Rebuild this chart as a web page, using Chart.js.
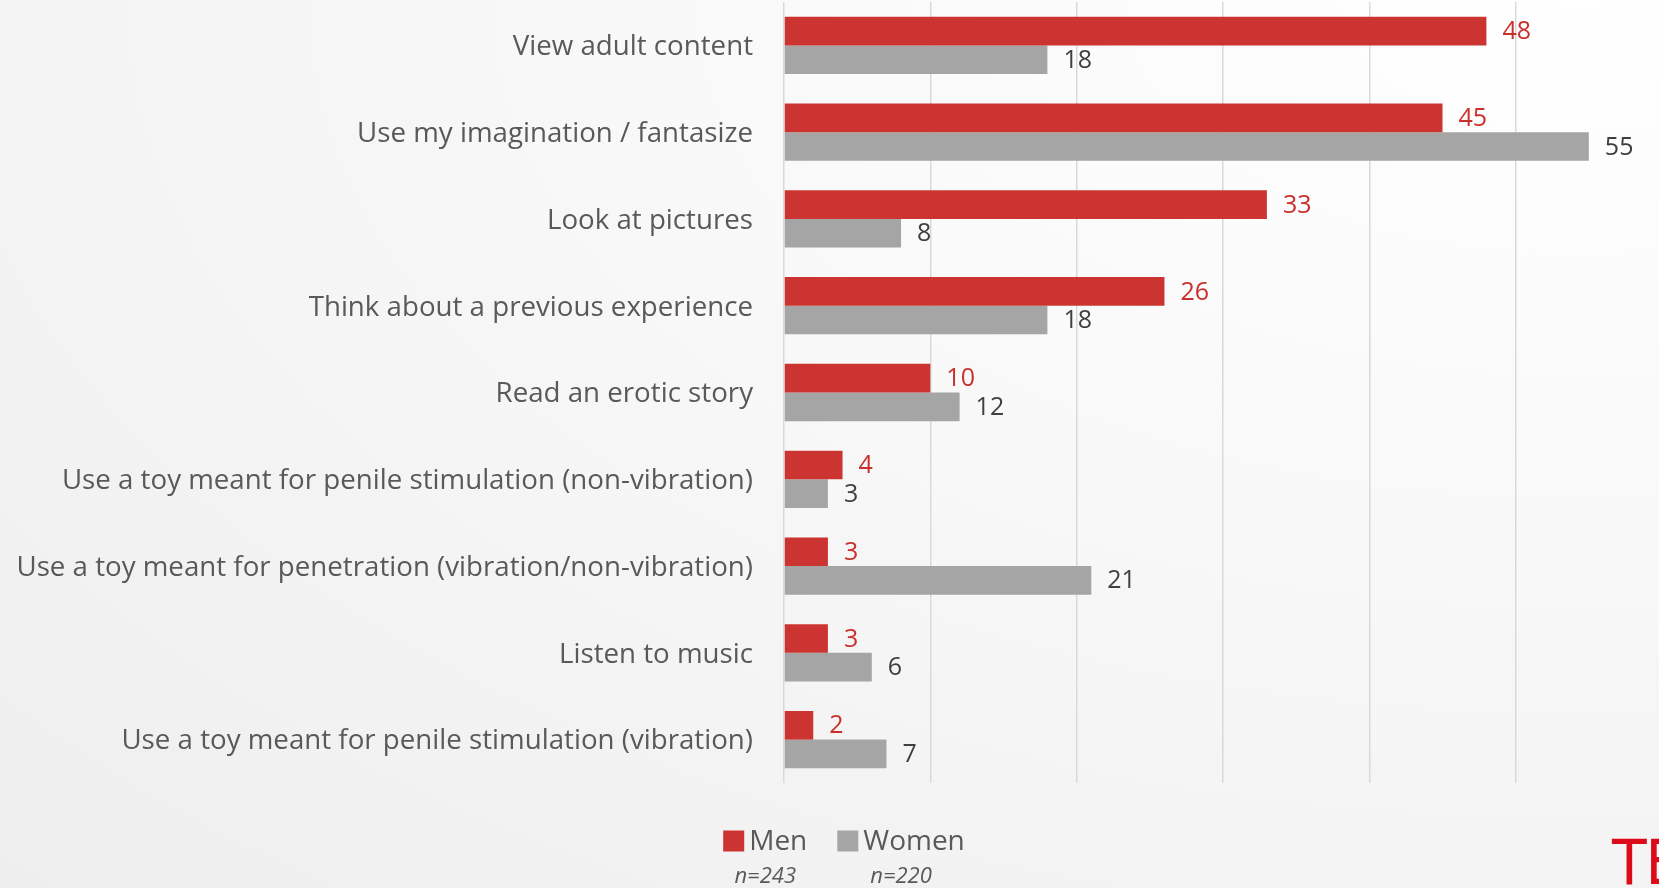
<!DOCTYPE html>
<html>
<head>
<meta charset="utf-8">
<script src="https://cdn.jsdelivr.net/npm/chart.js@4.4.0/dist/chart.umd.min.js"></script>
<style>
html, body { margin: 0; padding: 0; width: 1659px; height: 888px; overflow: hidden; }
body { position: relative; background: radial-gradient(ellipse at 95% 0%, #ffffff 0%, #f8f8f8 45%, #eeeeee 100%); }
#wrap { position: absolute; left: 0; top: 0; width: 1688px; height: 888px; }
#logo { position: absolute; left: 1612px; top: 831px; color: #dd0a1a; font: 63px/63px "Liberation Sans Narrow", "DejaVu Sans Condensed", sans-serif; letter-spacing: -1px; white-space: nowrap; }
</style>
</head>
<body>
<div id="wrap"><canvas id="chart" width="1688" height="888"></canvas></div>
<div id="logo">TENGA</div>
<script>
const categories = [
    'View adult content',
    'Use my imagination / fantasize',
    'Look at pictures',
    'Think about a previous experience',
    'Read an erotic story',
    'Use a toy meant for penile stimulation (non-vibration)',
    'Use a toy meant for penetration (vibration/non-vibration)',
    'Listen to music',
    'Use a toy meant for penile stimulation (vibration)'
];
const men = [48, 45, 33, 26, 10, 4, 3, 3, 2];
const women = [18, 55, 8, 18, 12, 3, 21, 6, 7];
const seriesNames = ['Men', 'Women'];
const sampleSizes = ['n=243', 'n=220'];
const xMin = 0, xMax = 60, xStep = 10;

const barColors = ['#cc3431', '#a5a5a5'];
const labelColors = ['#c9302c', '#404040'];
const FONT = '"Open Sans", sans-serif';

// 棒の右に値を描く
const valueLabels = {
    id: 'valueLabels',
    afterDatasetsDraw(chart) {
        const ctx = chart.ctx;
        chart.data.datasets.forEach((ds, i) => {
            const meta = chart.getDatasetMeta(i);
            ctx.save();
            ctx.font = '25px ' + FONT;
            ctx.fillStyle = labelColors[i];
            ctx.textBaseline = 'middle';
            meta.data.forEach((bar, j) => {
                ctx.fillText(String(ds.data[j]), bar.x + 16, bar.y + 1);
            });
            ctx.restore();
        });
    }
};

// 凡例（四角 + 名前、その下に n=）
const legendBlock = {
    id: 'legendBlock',
    afterDraw(chart) {
        const ctx = chart.ctx;
        const box = 21, gap = 5, itemGap = 30;
        const cy = chart.chartArea.bottom + 58;
        ctx.save();
        ctx.font = '28px ' + FONT;
        const widths = seriesNames.map(n => box + gap + ctx.measureText(n).width);
        const total = widths.reduce((a, b) => a + b, 0) + itemGap * (seriesNames.length - 1);
        let x = chart.width / 2 - total / 2;
        seriesNames.forEach((name, i) => {
            ctx.fillStyle = barColors[i];
            ctx.fillRect(x, cy - box / 2, box, box);
            ctx.font = '28px ' + FONT;
            ctx.fillStyle = '#595959';
            ctx.textAlign = 'left';
            ctx.textBaseline = 'middle';
            ctx.fillText(name, x + box + gap, cy + 1);
            ctx.font = 'italic 22px ' + FONT;
            ctx.textAlign = 'center';
            ctx.fillText(sampleSizes[i], x + widths[i] / 2, cy + 36);
            x += widths[i] + itemGap;
        });
        ctx.restore();
    }
};

new Chart(document.getElementById('chart'), {
    type: 'bar',
    data: {
        labels: categories,
        datasets: [
            { label: seriesNames[0], data: men, backgroundColor: barColors[0], barPercentage: 1, categoryPercentage: 0.66 },
            { label: seriesNames[1], data: women, backgroundColor: barColors[1], barPercentage: 1, categoryPercentage: 0.66 }
        ]
    },
    options: {
        indexAxis: 'y',
        responsive: false,
        animation: false,
        layout: { padding: { left: 0, right: 26, top: 2, bottom: 105 } },
        scales: {
            x: {
                min: xMin,
                max: xMax,
                ticks: { stepSize: xStep, display: false },
                grid: { color: '#d9d9d9', lineWidth: 1.5, drawTicks: false },
                border: { display: false },
                afterFit(s) { s.height = 0; s.paddingLeft = 0; s.paddingRight = 0; }
            },
            y: {
                ticks: { color: '#595959', font: { family: FONT, size: 27.7 }, padding: 31, labelOffset: 2 },
                grid: { display: false, drawTicks: false },
                border: { display: false },
                afterFit(s) { s.width = 784; s.paddingTop = 0; s.paddingBottom = 0; }
            }
        },
        plugins: {
            legend: { display: false },
            tooltip: { enabled: false }
        }
    },
    plugins: [valueLabels, legendBlock]
});
</script>
</body>
</html>
